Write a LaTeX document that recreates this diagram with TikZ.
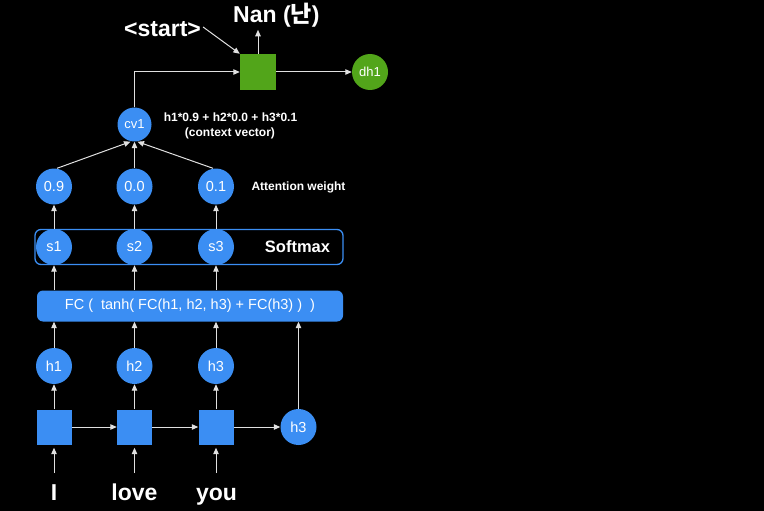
\documentclass[tikz,border=0pt]{standalone}
\usepackage{fontspec}
\setmainfont{Liberation Sans}
\newfontfamily\krfont{Noto Sans CJK KR}
\usetikzlibrary{arrows.meta}
\definecolor{nblue}{HTML}{3B8EF3}
\definecolor{ngreen}{HTML}{52A51A}
\begin{document}
\begin{tikzpicture}[x=1pt,y=-1pt,
  circ/.style={circle,fill=nblue,minimum size=36pt,inner sep=0pt,text=white,font=\fontsize{14.5}{16}\selectfont},
  scirc/.style={circle,fill=nblue,minimum size=34pt,inner sep=0pt,text=white,font=\fontsize{13}{15}\selectfont},
  sq/.style={rectangle,fill=nblue,minimum size=35pt,inner sep=0pt},
  word/.style={text=white,font=\bfseries\fontsize{23}{26}\selectfont,anchor=base,inner sep=0pt},
  lbl/.style={text=white,font=\bfseries\fontsize{12}{14}\selectfont,inner sep=0pt},
  arr/.style={draw=white!88!black,line width=1pt,-{Triangle[length=6.5pt,width=5.5pt]}},
  ln/.style={draw=white!88!black,line width=1pt}
]
\fill[black] (0,0) rectangle (764,511);
\useasboundingbox (0,0) rectangle (764,511);

% boxes
\node[draw=nblue,line width=1.3pt,rounded corners=6pt,minimum width=308pt,minimum height=35pt,inner sep=0pt] (smbox) at (189,247) {};
\node[fill=nblue,rounded corners=6pt,minimum width=306pt,minimum height=31pt,inner sep=0pt,text=white,font=\fontsize{14.5}{16}\selectfont] (fc) at (190,306) {FC (\ \ tanh( FC(h1, h2, h3) + FC(h3) )\ \ )};

% encoder
\node[sq] (q1) at (54,427) {};
\node[sq] (q2) at (134.5,427) {};
\node[sq] (q3) at (216,427) {};
\node[circ] (hr) at (298.5,427) {h3};
\node[circ] (h1) at (54,366) {h1};
\node[circ] (h2) at (134.5,366) {h2};
\node[circ] (h3) at (216,366) {h3};
\node[word] (w1) at (54,500) {I};
\node[word] (w2) at (134.5,500) {love};
\node[word] (w3) at (216.5,500) {you};
\coordinate (b1) at (54,473);
\coordinate (b2) at (134.5,473);
\coordinate (b3) at (216,473);

% softmax
\node[circ] (s1) at (54,247) {s1};
\node[circ] (s2) at (134.5,247) {s2};
\node[circ] (s3) at (216,247) {s3};
\node[text=white,font=\bfseries\fontsize{16.5}{18}\selectfont] (smt) at (297.5,247) {Softmax};

% attention
\node[circ] (a1) at (54,186.5) {0.9};
\node[circ] (a2) at (134.5,186.5) {0.0};
\node[circ] (a3) at (216,186.5) {0.1};
\node[lbl] (awt) at (298.5,187) {Attention weight};

\node[scirc] (cv) at (134.5,124.5) {cv1};
\node[lbl] (ctx1) at (230.5,117.5) {h1*0.9 + h2*0.0 + h3*0.1};
\node[lbl] (ctx2) at (230,133.5) {(context vector)};

% decoder
\node[rectangle,fill=ngreen,minimum size=36pt,inner sep=0pt] (g) at (258,72) {};
\node[circle,fill=ngreen,minimum size=36pt,inner sep=0pt,text=white,font=\fontsize{13}{15}\selectfont] (dh) at (370,72) {dh1};
\node[anchor=west,text=white,font=\bfseries\fontsize{23}{26}\selectfont,inner sep=0pt] (nan) at (233,15) {Nan ({\krfont 난})};
\node[text=white,font=\bfseries\fontsize{23}{26}\selectfont,inner sep=0pt] (st) at (162.5,29) {<start>};

% arrows
\foreach \b/\q in {b1/q1,b2/q2,b3/q3}{
  \draw[arr] (\b) -- ([yshift=-3pt]\q.south);
}
\foreach \q/\h in {q1/h1,q2/h2,q3/h3}{
  \draw[arr] (\q.north) -- (\h.south);
}
\draw[arr] (q1.east) -- (q2.west);
\draw[arr] (q2.east) -- (q3.west);
\draw[arr] (q3.east) -- (hr.west);
\foreach \h in {h1,h2,h3,hr}{
  \draw[arr] (\h.north) -- (\h.north |- fc.south);
}
\foreach \s in {s1,s2,s3}{
  \draw[arr] (\s.north |- fc.north) -- (\s.south);
}
\draw[arr] (s1.north) -- (a1.south);
\draw[arr] (s2.north) -- (a2.south);
\draw[arr] (s3.north) -- (a3.south);
\draw[arr] ([xshift=3pt]a1.north) -- ([xshift=-4pt]cv.south);
\draw[arr] (a2.north) -- (cv.south);
\draw[arr] ([xshift=-3pt]a3.north) -- ([xshift=3pt]cv.south);
\draw[arr] (cv.north) |- (g.west);
\draw[arr] (g.east) -- (dh.west);
\draw[arr] (g.north) -- ++(0,-24);
\draw[arr] ([xshift=2pt,yshift=2pt]st.east) -- (g.north west);
\end{tikzpicture}
\end{document}
